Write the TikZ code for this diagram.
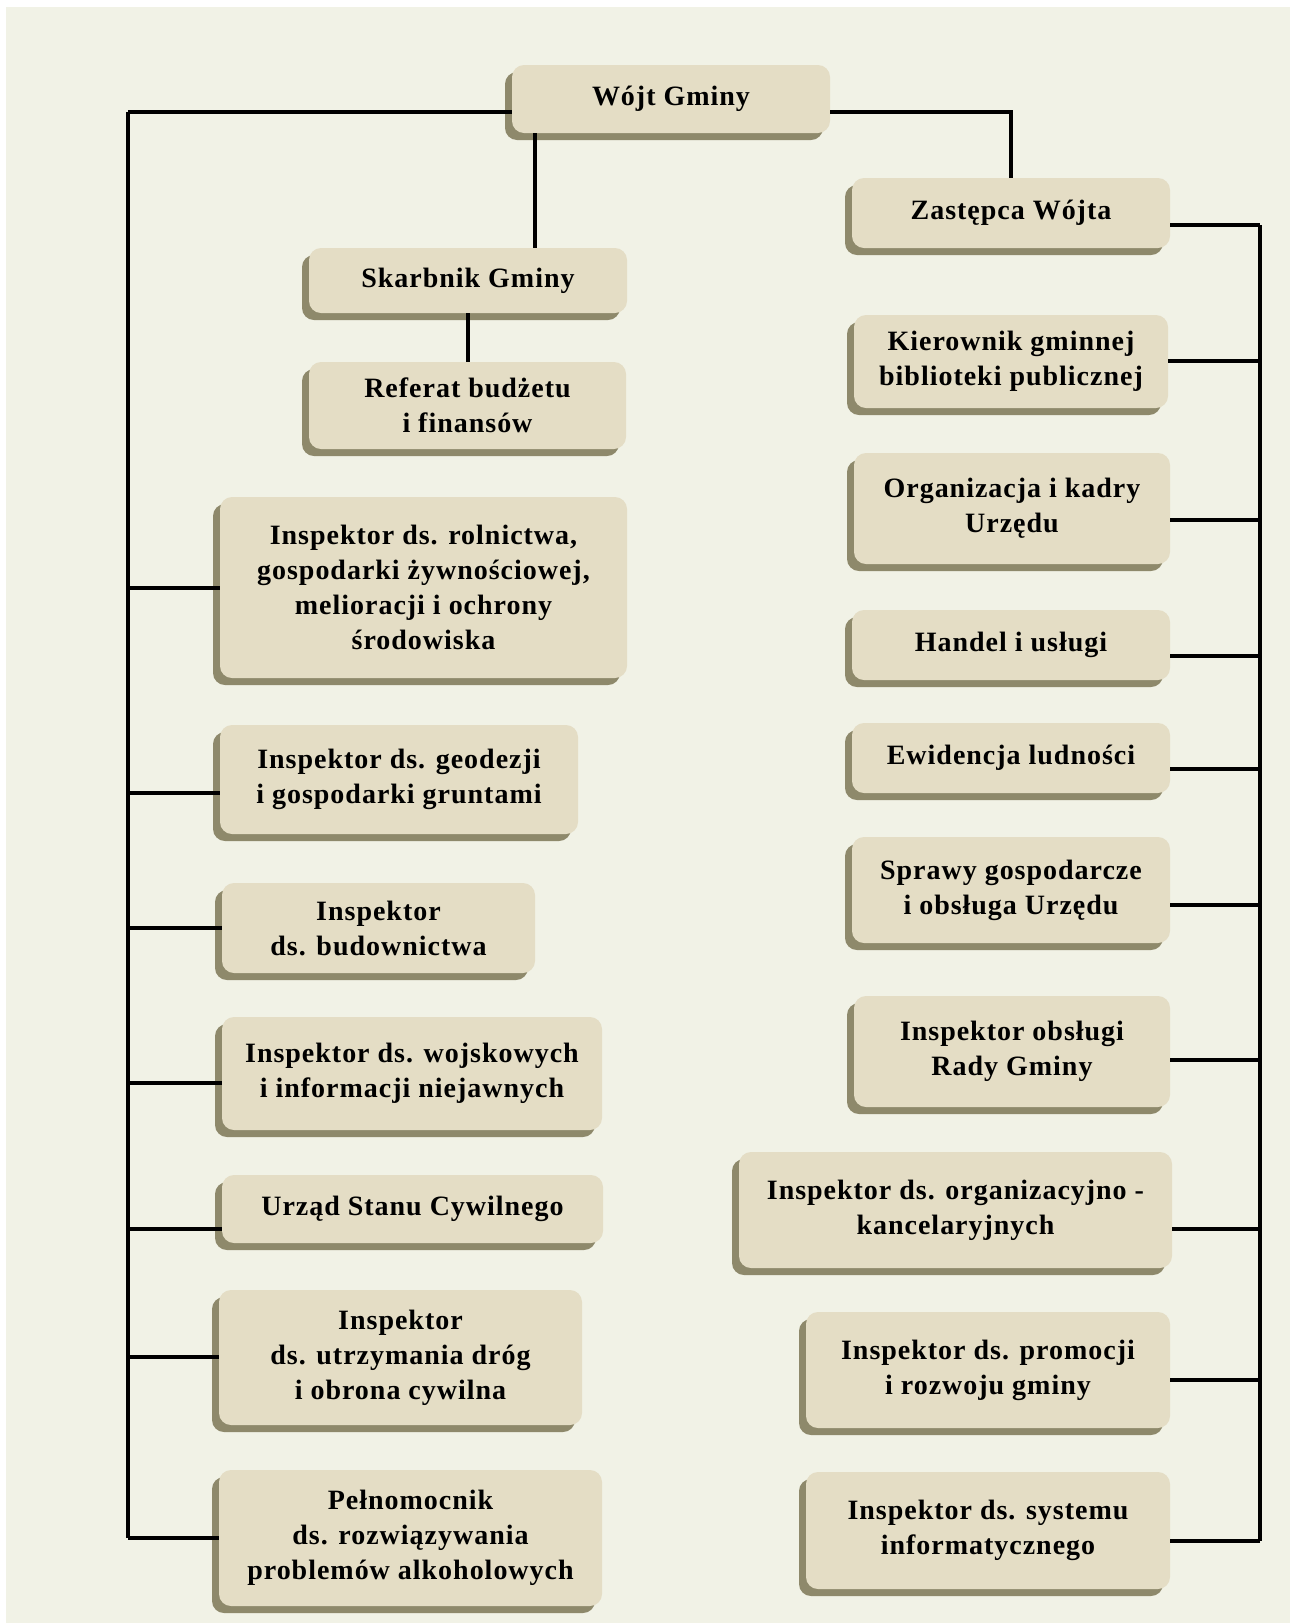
\documentclass[tikz,border=0pt]{standalone}
\usepackage{fontspec}
\setmainfont[LetterSpace=3.5]{Liberation Serif}
\definecolor{bgpage}{HTML}{F1F2E6}
\definecolor{boxface}{HTML}{E4DDC5}
\definecolor{boxshadow}{HTML}{8E896B}
\newcommand\orgbox[6]{%
  \fill[boxshadow, rounded corners=12pt] (#2,#3+7) rectangle (#4-7,#5);
  \node[face, minimum width={#4-#2-7}, minimum height={#5-#3-7}] (#1)
    at ({(#2+7+#4)/2},{(#3+#5-7)/2}) {#6};
}
\tikzset{
  face/.style={rounded corners=12pt, fill=boxface, draw=none, align=center,
    inner sep=0pt, font=\fontsize{28}{35}\selectfont\bfseries},
  link/.style={line width=3.5pt, black}
}
\begin{document}
\begin{tikzpicture}[x=1pt, y=-1pt]
\useasboundingbox (0,0) rectangle (1290,1623);
\fill[white] (0,0) rectangle (1290,1623);
\fill[bgpage] (6,7) rectangle (1290,1623);

% trunk coordinates
\coordinate (ltop) at (128,112);
\coordinate (lbot) at (128,1538);
\coordinate (rtop) at (1011,112);
\coordinate (rtrunk) at (1260,225);
\coordinate (rbot) at (1260,1541);
\coordinate (skx) at (535,0);
\coordinate (refx) at (468,0);

% trunks (drawn first, boxes on top)
\draw[link] (ltop) -- (lbot);
\draw[link] (rtrunk) -- (rbot);

\orgbox{wojt}{505}{65}{830}{140}{Wójt Gminy}
\orgbox{zast}{845}{178}{1170}{255}{Zastępca Wójta}
\orgbox{skarb}{302}{248}{627}{320}{Skarbnik Gminy}
\orgbox{ref}{302}{362}{626}{456}{Referat budżetu\\i finansów}
\orgbox{rol}{213}{497}{627}{685}{Inspektor ds. rolnictwa,\\gospodarki żywnościowej,\\melioracji i ochrony\\środowiska}
\orgbox{geo}{213}{725}{578}{841}{Inspektor ds. geodezji\\i gospodarki gruntami}
\orgbox{bud}{215}{883}{535}{980}{Inspektor\\ds. budownictwa}
\orgbox{wojsk}{215}{1017}{602}{1137}{Inspektor ds. wojskowych\\i informacji niejawnych}
\orgbox{usc}{215}{1175}{603}{1250}{Urząd Stanu Cywilnego}
\orgbox{drog}{212}{1290}{582}{1432}{Inspektor\\ds. utrzymania dróg\\i obrona cywilna}
\orgbox{peln}{212}{1470}{602}{1613}{Pełnomocnik\\ds. rozwiązywania\\problemów alkoholowych}

\orgbox{kier}{847}{315}{1168}{415}{Kierownik gminnej\\biblioteki publicznej}
\orgbox{org}{847}{453}{1170}{571}{Organizacja i kadry\\Urzędu}
\orgbox{han}{845}{610}{1170}{687}{Handel i usługi}
\orgbox{ewi}{845}{723}{1170}{800}{Ewidencja ludności}
\orgbox{spr}{845}{837}{1170}{950}{Sprawy gospodarcze\\i obsługa Urzędu}
\orgbox{rady}{847}{996}{1170}{1114}{Inspektor obsługi\\Rady Gminy}
\orgbox{kanc}{732}{1152}{1172}{1275}{Inspektor ds. organizacyjno -\\kancelaryjnych}
\orgbox{prom}{799}{1312}{1170}{1435}{Inspektor ds. promocji\\i rozwoju gminy}
\orgbox{sys}{799}{1472}{1170}{1596}{Inspektor ds. systemu\\informatycznego}

% top connectors
\draw[link] (wojt.west |- ltop) -- (ltop);
\draw[link] (wojt.east |- rtop) -- (rtop) -- (rtop |- zast.north);
\draw[link] (skx |- wojt.south) -- (skx |- skarb.north);
\draw[link] (refx |- skarb.south) -- (refx |- ref.north);
\draw[link] (zast.east |- rtrunk) -- (rtrunk);

% left branch connectors
\foreach \n/\y in {rol/588, geo/793, bud/928, wojsk/1083, usc/1229, drog/1357, peln/1538}{
  \coordinate (lc) at (128,\y);
  \draw[link] (lc) -- (lc -| \n.west);
}
% right branch connectors
\foreach \n/\y in {kier/361, org/520, han/656, ewi/769, spr/905, rady/1060, kanc/1229, prom/1380, sys/1541}{
  \coordinate (rc) at (1260,\y);
  \draw[link] (rc) -- (rc -| \n.east);
}
\end{tikzpicture}
\end{document}
